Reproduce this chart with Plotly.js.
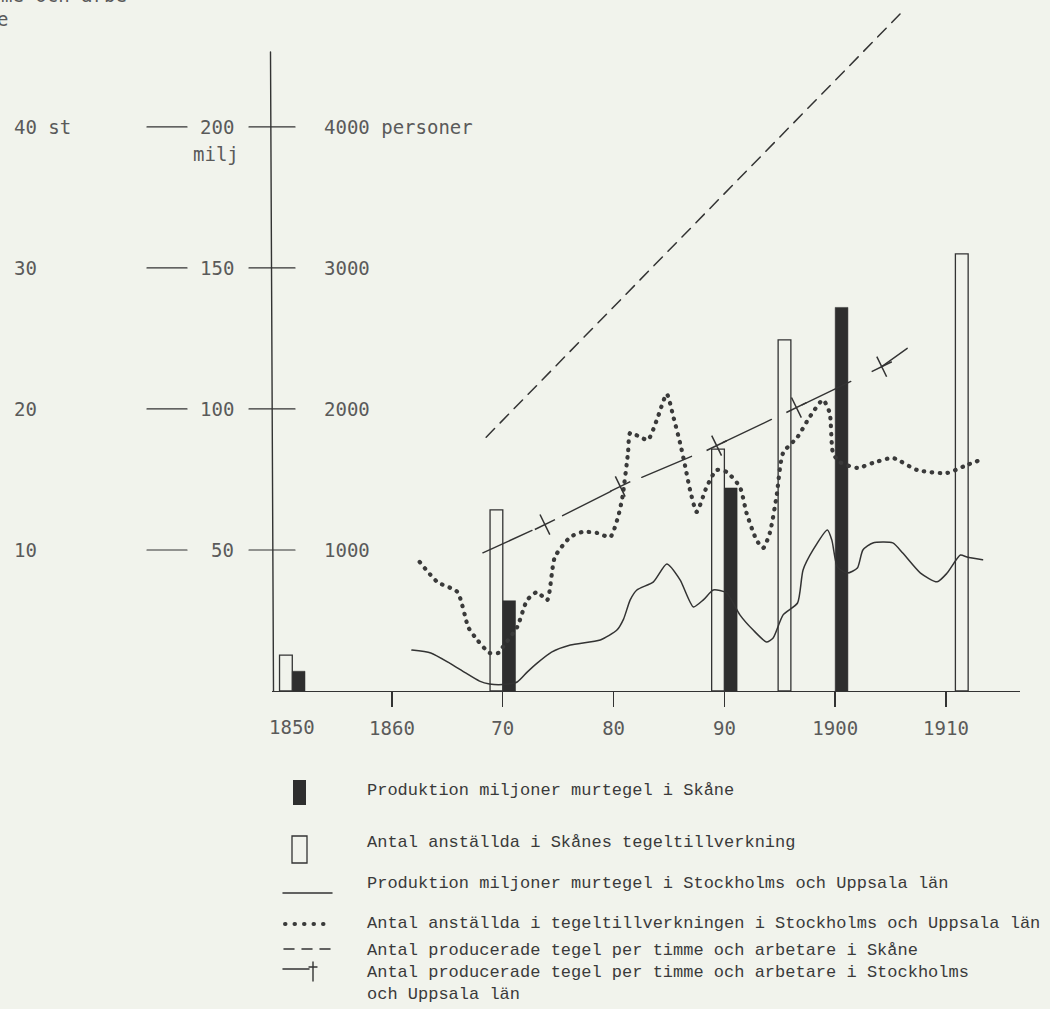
<!DOCTYPE html>
<html>
<head>
<meta charset="utf-8">
<script src="https://cdn.plot.ly/plotly-3.0.1.min.js"></script>
<style>
html,body{margin:0;padding:0;background:#f1f3ec;}
#chart{width:1050px;height:1009px;}
#chart .js-line{stroke-linecap:round;}
#chart .shapelayer path{stroke-linecap:round;}
</style>
</head>
<body>
<div id="chart"></div>
<script>
// ---------------- DATA ----------------
// Skåne: production, million bricks (black bars)
const skaneProdYears  = [1850, 1870, 1890, 1900];
const skaneProdValues = [7, 32, 72, 136];
// Skåne: number of employees (white bars)
const skaneEmpYears  = [1850, 1870, 1890, 1896, 1912];
const skaneEmpValues = [255, 1285, 1715, 2490, 3100];
// Stockholm & Uppsala: production, million bricks (solid line)
const sthlmProdYears  = [1861.8, 1863.5, 1865.2, 1866.6, 1867.9, 1868.8, 1870.0, 1871.3, 1872.2, 1873.1, 1874.4, 1876.1, 1878.8, 1880.3, 1880.9, 1881.5, 1882.1, 1883.6, 1884.8, 1886.0, 1887.2, 1888.1, 1889.0, 1890.2, 1891.4, 1892.6, 1893.8, 1894.4, 1895.3, 1896.6, 1897.1, 1898.0, 1899.3, 1899.7, 1900.2, 1901.1, 1902.0, 1902.5, 1903.4, 1905.2, 1906.1, 1907.7, 1909.2, 1910.1, 1911.3, 1911.9, 1913.3];
const sthlmProdValues = [14.5, 13.5, 9.9, 6.5, 3.5, 2.5, 2.3, 3.2, 6.7, 9.9, 13.8, 16.3, 18.1, 21.6, 25.5, 32.3, 35.8, 38.7, 45.0, 39.4, 29.8, 32.3, 35.8, 34.8, 27.0, 21.6, 17.4, 18.8, 27.0, 31.2, 42.9, 50.0, 57.1, 53.5, 44.0, 41.8, 43.6, 50.0, 52.5, 52.5, 48.9, 41.8, 38.7, 41.8, 48.2, 47.5, 46.5];
// Stockholm & Uppsala: number of employees (dotted line)
const sthlmEmpYears  = [1862.5, 1864.1, 1865.9, 1866.9, 1867.7, 1868.8, 1869.6, 1870.0, 1871.3, 1872.2, 1873.1, 1874.0, 1874.7, 1876.1, 1877.2, 1878.5, 1879.7, 1880.4, 1880.8, 1881.3, 1881.5, 1882.4, 1883.1, 1883.9, 1884.8, 1885.4, 1886.0, 1886.4, 1886.9, 1887.5, 1888.4, 1889.3, 1890.2, 1891.4, 1892.0, 1892.9, 1893.5, 1894.1, 1894.7, 1895.3, 1896.6, 1897.7, 1898.9, 1899.5, 1899.8, 1900.4, 1902.0, 1903.4, 1905.2, 1907.4, 1910.1, 1911.9, 1913.1];
const sthlmEmpValues = [915, 773, 702, 450, 362, 270, 270, 312, 454, 645, 702, 645, 950, 1092, 1128, 1121, 1092, 1234, 1376, 1688, 1830, 1801, 1780, 1922, 2106, 1943, 1759, 1617, 1426, 1270, 1447, 1567, 1553, 1447, 1262, 1071, 1014, 1121, 1376, 1688, 1801, 1943, 2064, 1972, 1688, 1624, 1582, 1617, 1652, 1567, 1546, 1603, 1638];
// Skåne: bricks per hour and worker (dashed line)
const skaneRateYears  = [1868.5, 1905.85];
const skaneRateValues = [18.0, 48.0];
// Stockholm & Uppsala: bricks per hour and worker (long dash with crosses)
const sthlmRateYears  = [1868.2, 1873.8, 1880.6, 1889.3, 1896.5, 1904.2, 1906.5];
const sthlmRateValues = [9.8, 11.8, 14.5, 17.4, 20.1, 23.0, 24.3];

// axes ticks / labels
const xTickYears = [1860, 1870, 1880, 1890, 1900, 1910];
const xTickText  = ['1860', '70', '80', '90', '1900', '1910'];
const firstYearLabel = '1850';
const stTicks    = [10, 20, 30, 40];
const stLabels   = ['10', '20', '30', '40 st'];
const miljTicks  = [50, 100, 150, 200];
const miljLabels = ['50', '100', '150', '200'];
const miljUnit   = 'milj';
const persTicks  = [1000, 2000, 3000, 4000];
const persLabels = ['1000', '2000', '3000', '4000 personer'];
const topCutLines = ['me och arbe', 'e'];

const legendLabels = [
  'Produktion miljoner murtegel i Skåne',
  'Antal anställda i Skånes tegeltillverkning',
  'Produktion miljoner murtegel i Stockholms och Uppsala län',
  'Antal anställda i tegeltillverkningen i Stockholms och Uppsala län',
  'Antal producerade tegel per timme och arbetare i Skåne',
  'Antal producerade tegel per timme och arbetare i Stockholms<br>och Uppsala län'
];

// ---------------- LAYOUT HELPERS ----------------
const W = 1050, H = 1009;
const L = 272, R = 1020, T = 0, B = 691;
const PW = R - L, PH = B - T;
const px = x => (x - L) / PW;
const py = y => 1 - (y - T) / PH;
// the drawn x axis is broken between 1850 and 1860: 1850 sits one year right
const brokenShift = 1;
const axisYear = y => (y < 1855 ? y + brokenShift : y);

const ink = '#333333';
const bg = '#f1f3ec';
const axisFont = {family: 'DejaVu Sans Mono, monospace', size: 19, color: '#5a5a5a'};
const legFont = {family: 'Liberation Mono, Courier New, monospace', size: 17, color: '#3a3a3a'};
const barW = 1.15;

const traces = [
  {
    type: 'bar', x: skaneEmpYears.map(axisYear), y: skaneEmpValues, yaxis: 'y2',
    width: barW, offset: -barW,
    marker: {color: 'rgba(0,0,0,0)', line: {color: ink, width: 1.3}},
    name: legendLabels[1]
  },
  {
    type: 'bar', x: skaneProdYears.map(axisYear), y: skaneProdValues, yaxis: 'y',
    width: barW, offset: 0,
    marker: {color: '#2e2e2e', line: {color: '#2e2e2e', width: 0.5}},
    name: legendLabels[0]
  },
  {
    type: 'scatter', mode: 'lines', x: sthlmProdYears, y: sthlmProdValues, yaxis: 'y',
    line: {color: ink, width: 1.5, shape: 'spline', smoothing: 0.6},
    name: legendLabels[2]
  },
  {
    type: 'scatter', mode: 'lines', x: sthlmEmpYears, y: sthlmEmpValues, yaxis: 'y2',
    line: {color: '#3a3a3a', width: 4.2, dash: '0.5px,7.5px', shape: 'spline', smoothing: 0.6},
    name: legendLabels[3]
  },
  {
    type: 'scatter', mode: 'lines', x: skaneRateYears, y: skaneRateValues, yaxis: 'y3',
    line: {color: ink, width: 1.5, dash: '12px,8px'},
    name: legendLabels[4]
  },
  {
    type: 'scatter', mode: 'lines', x: sthlmRateYears, y: sthlmRateValues, yaxis: 'y3',
    line: {color: ink, width: 1.4, dash: '54px,34px'},
    name: legendLabels[5]
  },
  {
    type: 'scatter', mode: 'markers', x: sthlmRateYears.slice(1, -1), y: sthlmRateValues.slice(1, -1), yaxis: 'y3',
    marker: {symbol: 'cross-thin-open', size: 16, angle: -26, color: ink, line: {color: ink, width: 1.5}},
    showlegend: false
  }
];

const shapes = [];
const annotations = [];

// vertical axis line
shapes.push({type: 'line', xref: 'paper', yref: 'paper', x0: px(273.5), x1: px(270.5), y0: py(691), y1: py(52), line: {color: ink, width: 1.4}});

// y tick dashes
miljTicks.forEach(v => {
  shapes.push({type: 'line', xref: 'paper', yref: 'y', x0: px(147), x1: px(187), y0: v, y1: v, line: {color: ink, width: 1.2}});
  shapes.push({type: 'line', xref: 'paper', yref: 'y', x0: px(249), x1: px(295), y0: v, y1: v, line: {color: ink, width: 1.2}});
});

// y labels
stTicks.forEach((v, i) => annotations.push({xref: 'paper', yref: 'y3', x: px(12), y: v, xanchor: 'left', yanchor: 'middle', text: stLabels[i], showarrow: false, font: axisFont}));
miljTicks.forEach((v, i) => annotations.push({xref: 'paper', yref: 'y', x: px(236), y: v, xanchor: 'right', yanchor: 'middle', text: miljLabels[i], showarrow: false, font: axisFont}));
annotations.push({xref: 'paper', yref: 'y', x: px(191), y: miljTicks[miljTicks.length - 1], yshift: -27, xanchor: 'left', yanchor: 'middle', text: miljUnit, showarrow: false, font: axisFont});
persTicks.forEach((v, i) => annotations.push({xref: 'paper', yref: 'y2', x: px(322), y: v, xanchor: 'left', yanchor: 'middle', text: persLabels[i], showarrow: false, font: axisFont}));

// 1850 label of the broken part of the axis
annotations.push({xref: 'x', yref: 'paper', x: axisYear(1850), y: py(727), xanchor: 'center', yanchor: 'middle', text: firstYearLabel, showarrow: false, font: axisFont});

// text continued from the previous page, cut at the top-left edge as in the scan
annotations.push({xref: 'paper', yref: 'paper', x: px(-1), y: py(-5), xanchor: 'left', yanchor: 'middle', text: topCutLines[0], showarrow: false, font: axisFont});
annotations.push({xref: 'paper', yref: 'paper', x: px(-5), y: py(19), xanchor: 'left', yanchor: 'middle', text: topCutLines[1], showarrow: false, font: axisFont});

// legend (hand-drawn key)
shapes.push({type: 'rect', xref: 'paper', yref: 'paper', x0: px(293), x1: px(306), y0: py(805), y1: py(780), fillcolor: '#2e2e2e', line: {width: 0}});
shapes.push({type: 'rect', xref: 'paper', yref: 'paper', x0: px(292), x1: px(307), y0: py(863), y1: py(836), fillcolor: 'rgba(0,0,0,0)', line: {color: ink, width: 1.3}});
shapes.push({type: 'line', xref: 'paper', yref: 'paper', x0: px(283), x1: px(332), y0: py(893), y1: py(893), line: {color: ink, width: 1.5}});
shapes.push({type: 'line', xref: 'paper', yref: 'paper', x0: px(285), x1: px(332), y0: py(924), y1: py(924), line: {color: '#3a3a3a', width: 4, dash: '0.5px,9px'}});
shapes.push({type: 'line', xref: 'paper', yref: 'paper', x0: px(284), x1: px(330), y0: py(949), y1: py(949), line: {color: ink, width: 1.5, dash: '10px,8px'}});
shapes.push({type: 'line', xref: 'paper', yref: 'paper', x0: px(283), x1: px(309), y0: py(969), y1: py(969), line: {color: ink, width: 1.5}});
// the "+" of the key
shapes.push({type: 'line', xref: 'paper', yref: 'paper', x0: px(313), x1: px(313), y0: py(962), y1: py(981), line: {color: ink, width: 1.4}});
shapes.push({type: 'line', xref: 'paper', yref: 'paper', x0: px(309), x1: px(317), y0: py(967), y1: py(967), line: {color: ink, width: 1.4}});

const legendY = [790, 842, 883, 923, 950, 984];
legendLabels.forEach((t, i) => annotations.push({
  xref: 'paper', yref: 'paper', x: px(365), y: py(legendY[i]), xanchor: 'left', yanchor: 'middle', align: 'left',
  text: t, showarrow: false, font: legFont
}));

const layout = {
  width: W, height: H,
  margin: {l: L, r: W - R, t: T, b: H - B, pad: 0},
  paper_bgcolor: bg, plot_bgcolor: bg,
  showlegend: false,
  barmode: 'overlay',
  hovermode: false,
  xaxis: {
    range: [1849.17, 1916.68], showgrid: false, zeroline: false,
    showline: true, linecolor: ink, linewidth: 1.4,
    tickmode: 'array', tickvals: xTickYears, ticktext: xTickText,
    ticks: 'outside', ticklen: 15, tickwidth: 1.4, tickcolor: ink,
    ticklabelstandoff: 5,
    tickfont: axisFont
  },
  yaxis:  {range: [0, 245],  visible: false, showgrid: false, zeroline: false},
  yaxis2: {range: [0, 4900], visible: false, showgrid: false, zeroline: false, overlaying: 'y'},
  yaxis3: {range: [0, 49],   visible: false, showgrid: false, zeroline: false, overlaying: 'y'},
  shapes: shapes,
  annotations: annotations
};

Plotly.newPlot('chart', traces, layout, {staticPlot: true, displayModeBar: false});
</script>
</body>
</html>
